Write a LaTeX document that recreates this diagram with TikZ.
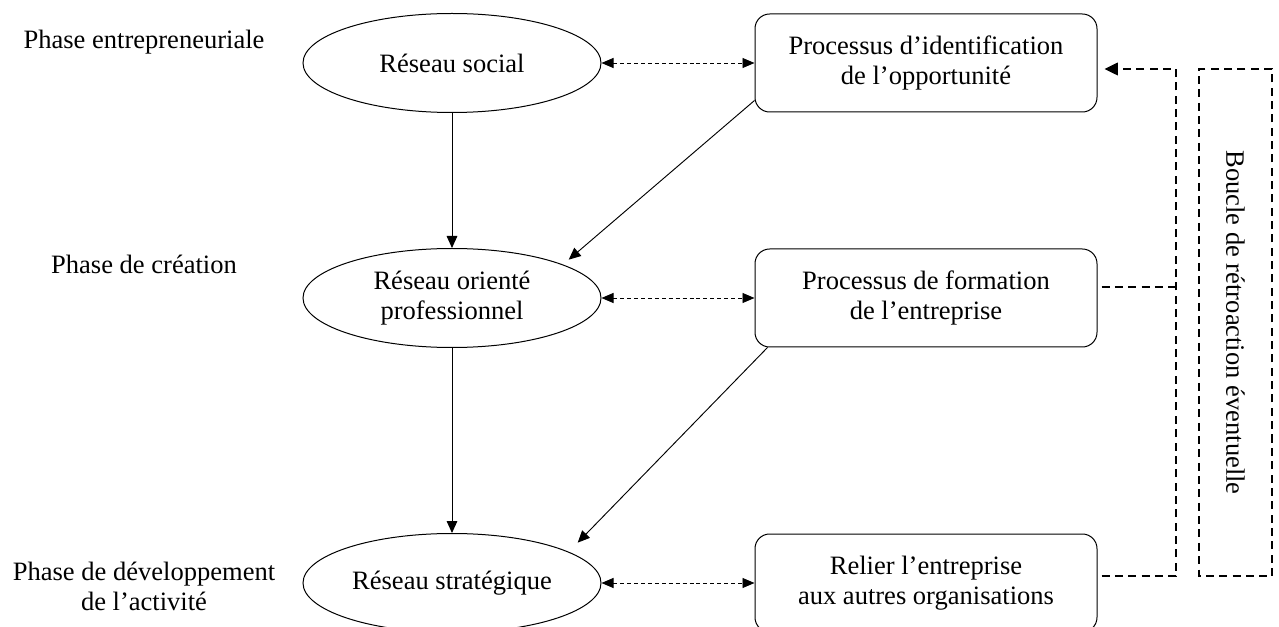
\documentclass[tikz,border=0pt]{standalone}
\usepackage{fontspec}
\setmainfont{Liberation Serif}
\usetikzlibrary{shapes.geometric,arrows.meta}

\begin{document}
\begin{tikzpicture}[x=0.75pt,y=0.75pt,yscale=-1,xscale=1,
    font=\fontsize{19.9pt}{22.5pt}\selectfont,
    reseau/.style={ellipse,draw,line width=0.75pt,minimum width=223.5pt,minimum height=74.25pt,align=center,inner sep=0pt},
    processus/.style={rectangle,draw,rounded corners=11pt,line width=0.75pt,minimum width=256.5pt,minimum height=73.5pt,align=center},
    phase/.style={align=center,inner sep=0.75pt},
    fleche/.style={-{Triangle[length=9pt,width=8pt]},line width=0.7pt},
    lien/.style={{Triangle[length=9pt,width=7.5pt]}-{Triangle[length=9pt,width=7.5pt]},line width=0.7pt,dash pattern=on 3pt off 2.2pt},
    boucle/.style={line width=1.1pt,dash pattern=on 6pt off 4pt}]
    \useasboundingbox (0,0) rectangle (1279,627);

    \draw (144,42) node [phase] (pent) {Phase entrepreneuriale};
    \draw (144,264) node [phase] (pcre) {Phase de création};
    \draw (144,586) node [phase] (pdev) {Phase de développement\\de l’activité};

    \draw (452,63) node [reseau] (rsoc) {Réseau social};
    \draw (452,298) node [reseau] (rpro) {Réseau orienté\\professionnel};
    \draw (452,583) node [reseau] (rstr) {Réseau stratégique};

    \draw (926,63) node [processus] (pid) {Processus d’identification\\de l’opportunité};
    \draw (926,298) node [processus] (pfe) {Processus de formation\\de l’entreprise};
    \draw (926,583) node [processus] (prel) {Relier l’entreprise\\aux autres organisations};

    \draw (1235.5,322.5) node [boucle,draw,rotate=-90,minimum width=380pt,minimum height=54.75pt] (bre) {Boucle de rétroaction éventuelle};

    \coordinate (fbhaut) at (1176,69);
    \coordinate (fbmil) at (1176,287);
    \coordinate (fbbas) at (1176,576);

    \draw [fleche] (rsoc) -- (rpro);
    \draw [fleche] (rpro) -- (rstr);
    \draw [fleche] ([shift={(0,-12)}]pid.south west) -- ([shift={(11,-3)}]rpro.north east);
    \draw [fleche] ([shift={(13,0)}]pfe.south west) -- ([shift={(20,-5)}]rstr.north east);

    \draw [lien] (rsoc) -- (pid);
    \draw [lien] (rpro) -- (pfe);
    \draw [lien] (rstr) -- (prel);

    \draw [boucle,-{Triangle[length=10pt,width=9.5pt]},shorten <=3pt,shorten >=5.25pt] (prel.east |- fbbas) -- (fbbas) -- (fbhaut) -- (pid.east |- fbhaut);
    \draw [boucle,shorten <=3pt] (pfe.east |- fbmil) -- (fbmil);
\end{tikzpicture}
\end{document}
